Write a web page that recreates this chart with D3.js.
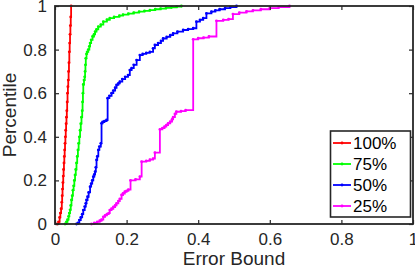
<!DOCTYPE html>
<html><head><meta charset="utf-8">
<script src="https://cdn.jsdelivr.net/npm/d3@7"></script>
<style>
html,body{margin:0;padding:0;background:#fff;}
svg{display:block;font-family:"Liberation Sans",Arial,Helvetica,sans-serif;}
</style></head>
<body><svg id="chart" width="415" height="270"></svg>
<script>
// ---- data ----
const seriesNames = ["100%", "75%", "50%", "25%"];
const seriesColors = ["#ff0000", "#00ff00", "#0000ff", "#ff00ff"];

const redX = [0.006,0.010,0.013,0.015,0.017,0.019,0.020,0.021,0.022,0.023,0.024,0.025,0.026,0.027,0.028,0.029,0.030,0.031,0.032,0.033,0.034,0.035,0.036,0.037,0.038,0.039,0.040,0.041,0.042,0.043,0.044,0.045];
const redY = [0,0.01,0.03,0.05,0.07,0.1,0.13,0.16,0.19,0.22,0.25,0.28,0.31,0.34,0.37,0.40,0.43,0.46,0.49,0.52,0.56,0.6,0.63,0.66,0.7,0.74,0.79,0.83,0.87,0.91,0.95,1.0];

const greenX = [0.028,0.032,0.035,0.038,0.040,0.042,0.044,0.046,0.048,0.050,0.052,0.054,0.056,0.058,0.060,0.062,0.064,0.066,0.068,0.070,0.072,0.074,0.076,0.077,0.078,0.079,0.081,0.083,0.084,0.085,0.086,0.088,0.090,0.093,0.096,0.098,0.101,0.105,0.109,0.112,0.116,0.121,0.128,0.135,0.145,0.153,0.165,0.18,0.19,0.205,0.22,0.235,0.25,0.265,0.28,0.295,0.31,0.325,0.34,0.353];
const greenY = [0,0.01,0.02,0.035,0.05,0.065,0.085,0.11,0.13,0.155,0.175,0.2,0.225,0.25,0.28,0.31,0.34,0.37,0.4,0.43,0.46,0.49,0.52,0.56,0.6,0.64,0.66,0.675,0.7,0.73,0.76,0.78,0.79,0.8,0.815,0.83,0.845,0.86,0.87,0.882,0.893,0.905,0.915,0.928,0.937,0.944,0.95,0.956,0.96,0.965,0.97,0.974,0.978,0.981,0.985,0.988,0.991,0.994,0.997,1.0];

const blueX = [0.060,0.064,0.068,0.072,0.076,0.079,0.083,0.086,0.088,0.091,0.094,0.098,0.101,0.104,0.107,0.110,0.112,0.114,0.116,0.118,0.121,0.124,0.128,0.130,0.133,0.138,0.144,0.147,0.152,0.158,0.163,0.168,0.172,0.177,0.181,0.188,0.196,0.204,0.209,0.214,0.220,0.228,0.237,0.245,0.255,0.265,0.274,0.279,0.288,0.296,0.302,0.312,0.322,0.330,0.342,0.358,0.372,0.386,0.395,0.405,0.414,0.423,0.437,0.448,0.460,0.475,0.490,0.507];
const blueY = [0,0.005,0.018,0.03,0.045,0.064,0.08,0.095,0.11,0.125,0.145,0.171,0.185,0.2,0.217,0.228,0.24,0.26,0.294,0.31,0.34,0.355,0.37,0.462,0.468,0.472,0.477,0.577,0.588,0.6,0.612,0.625,0.638,0.645,0.653,0.665,0.675,0.683,0.706,0.715,0.73,0.752,0.775,0.78,0.785,0.79,0.806,0.821,0.83,0.84,0.851,0.858,0.866,0.874,0.882,0.89,0.894,0.898,0.928,0.936,0.944,0.966,0.974,0.98,0.985,0.99,0.995,1.0];

const magentaX = [0.102,0.110,0.118,0.125,0.130,0.135,0.140,0.145,0.150,0.153,0.158,0.163,0.168,0.172,0.177,0.181,0.186,0.190,0.195,0.200,0.205,0.211,0.225,0.237,0.242,0.255,0.265,0.274,0.279,0.293,0.300,0.306,0.311,0.316,0.322,0.327,0.330,0.335,0.339,0.352,0.365,0.386,0.400,0.415,0.430,0.451,0.470,0.485,0.497,0.515,0.535,0.553,0.575,0.600,0.625,0.655];
const magentaY = [0,0.005,0.01,0.015,0.02,0.033,0.04,0.045,0.05,0.064,0.07,0.078,0.085,0.095,0.105,0.115,0.133,0.14,0.148,0.152,0.158,0.2,0.205,0.217,0.286,0.29,0.295,0.3,0.327,0.434,0.44,0.447,0.454,0.462,0.47,0.48,0.49,0.505,0.515,0.518,0.522,0.847,0.852,0.855,0.86,0.932,0.936,0.94,0.963,0.97,0.975,0.98,0.985,0.99,0.995,1.0];

const xTicks = [0, 0.2, 0.4, 0.6, 0.8, 1];
const xTickLabels = ["0", "0.2", "0.4", "0.6", "0.8", "1"];
const yTicks = [0, 0.2, 0.4, 0.6, 0.8, 1];
const yTickLabels = ["0", "0.2", "0.4", "0.6", "0.8", "1"];
const xLabel = "Error Bound";
const yLabel = "Percentile";

// ---- build ----
const seriesX = [redX, greenX, blueX, magentaX];
const seriesY = [redY, greenY, blueY, magentaY];
const series = seriesNames.map((n, i) => ({
  name: n, color: seriesColors[i],
  pts: seriesX[i].map((x, j) => [x, seriesY[i][j]])
}));

const svg = d3.select("#chart");
const L = 55, R = 413, T = 6, B = 224;
const x = d3.scaleLinear().domain([0, 1]).range([L, R]);
const y = d3.scaleLinear().domain([0, 1]).range([B, T]);
const axisColor = "#262626";

const plot = svg.append("g");
const line = d3.line().x(d => x(d[0])).y(d => y(d[1])).curve(d3.curveStepAfter);

series.forEach(s => {
  plot.append("path").datum(s.pts)
    .attr("d", line).attr("fill", "none")
    .attr("stroke", s.color).attr("stroke-width", 1.8);
  plot.selectAll(null).data(s.pts).enter().append("circle")
    .attr("cx", d => x(d[0])).attr("cy", d => y(d[1]))
    .attr("r", 1.4).attr("fill", s.color);
});

// axes
function styleAxis(g) {
  g.select(".domain").remove();
  g.selectAll(".tick line").attr("stroke", axisColor).attr("stroke-width", 1.2);
  g.selectAll(".tick text").attr("fill", axisColor).style("font-size", "17px");
}
svg.append("g").attr("transform", `translate(0,${B})`)
  .call(d3.axisBottom(x).tickValues(xTicks).tickFormat((d, i) => xTickLabels[i]).tickSizeInner(-4).tickSizeOuter(0).tickPadding(9))
  .call(styleAxis);
svg.append("g").attr("transform", `translate(0,${T})`)
  .call(d3.axisTop(x).tickValues(xTicks).tickFormat("").tickSizeInner(-4).tickSizeOuter(0))
  .call(styleAxis);
svg.append("g").attr("transform", `translate(${L},0)`)
  .call(d3.axisLeft(y).tickValues(yTicks).tickFormat((d, i) => yTickLabels[i]).tickSizeInner(-4).tickSizeOuter(0).tickPadding(8))
  .call(styleAxis);
svg.append("g").attr("transform", `translate(${R},0)`)
  .call(d3.axisRight(y).tickValues(yTicks).tickFormat("").tickSizeInner(-4).tickSizeOuter(0))
  .call(styleAxis);

svg.append("rect").attr("x", L).attr("y", T).attr("width", R - L).attr("height", B - T)
  .attr("fill", "none").attr("stroke", axisColor).attr("stroke-width", 1.8);

// labels
svg.append("text").attr("x", (L + R) / 2).attr("y", 265)
  .attr("text-anchor", "middle").attr("fill", axisColor).style("font-size", "19px").text(xLabel);
svg.append("text").attr("transform", `translate(15.5,${(T + B) / 2}) rotate(-90)`)
  .attr("text-anchor", "middle").attr("fill", axisColor).style("font-size", "19px").text(yLabel);

// legend
const lg = svg.append("g");
lg.append("rect").attr("x", 330.5).attr("y", 131).attr("width", 80).attr("height", 86)
  .attr("fill", "#fff").attr("stroke", axisColor).attr("stroke-width", 1.6);
series.forEach((s, i) => {
  const cy = 143 + i * 21;
  lg.append("line").attr("x1", 333).attr("x2", 351).attr("y1", cy).attr("y2", cy)
    .attr("stroke", s.color).attr("stroke-width", 1.8);
  lg.append("circle").attr("cx", 342).attr("cy", cy).attr("r", 1.4).attr("fill", s.color);
  lg.append("text").attr("x", 353).attr("y", cy).attr("dy", "0.36em")
    .attr("fill", "#000").style("font-size", "17px").text(s.name);
});
</script>
</body></html>
